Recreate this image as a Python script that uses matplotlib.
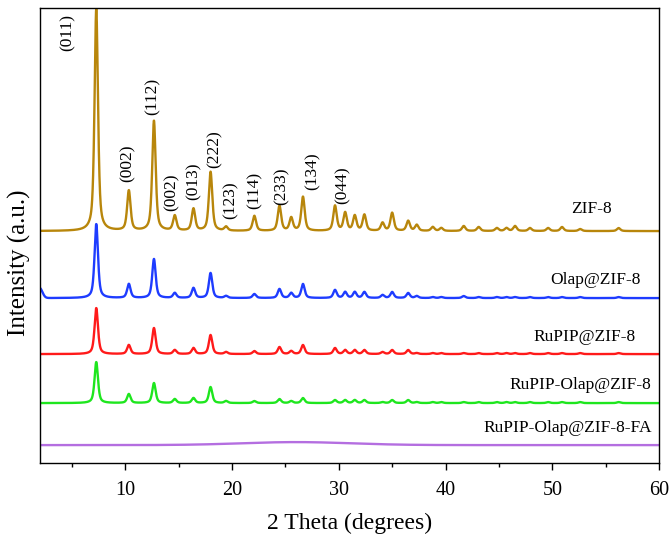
import numpy as np
import matplotlib
matplotlib.use('Agg')
import matplotlib.pyplot as plt
from matplotlib.ticker import MultipleLocator

plt.rcParams['font.family'] = ['Liberation Serif', 'DejaVu Serif']

# peak positions (2 theta, degrees)
peakPos = [7.3, 10.35, 12.7, 14.65, 16.4, 18.0, 19.45, 22.1, 24.45, 25.55, 26.65,
           29.65, 30.6, 31.5, 32.4, 34.1, 35.0, 36.5, 37.3, 38.8, 39.6, 41.7,
           43.1, 44.8, 45.7, 46.5, 47.9, 49.6, 50.9, 52.6, 56.2]

# peak heights (a.u.) for each sample, same order as peakPos
zif8 = [222, 40, 110, 15, 22, 59, 4, 15, 25, 13, 34, 25, 18, 15, 16, 8, 18,
        10, 6, 4, 3, 5, 4, 3, 3, 5, 3, 3, 4, 2, 3]
olapZif8 = [74, 14, 39, 5, 10, 25, 2, 4, 9, 5, 14, 8, 6, 6, 6, 3, 6,
            5, 2, 1, 1, 2, 1, 1, 1, 1, 1, 1, 1, 1, 1]
rupipZif8 = [46, 9, 26, 4, 6, 19, 2, 3, 7, 3, 9, 6, 4, 4, 4, 2, 4,
             4, 1, 1, 1, 1, 1, 1, 1, 1, 1, 1, 1, 1, 1]
rupipOlapZif8 = [41, 9, 20, 4, 5, 16, 2, 2, 4, 2, 5, 3, 3, 3, 3, 1, 3,
                 3, 1, 1, 1, 1, 1, 1, 1, 1, 1, 1, 1, 1, 1]
faZif8 = [0] * len(peakPos)

# vertical offsets of the stacked patterns
offsets = [232, 165, 109, 60, 18]
names = ['ZIF-8', 'Olap@ZIF-8', 'RuPIP@ZIF-8', 'RuPIP-Olap@ZIF-8', 'RuPIP-Olap@ZIF-8-FA']
colors = ['#B8860B', '#1E3CFF', '#FF1A1A', '#1EE61E', '#B46EE0']
heights = [zif8, olapZif8, rupipZif8, rupipOlapZif8, faZif8]

# extra broad features: (position, height, width) per sample
extras = [[], [(2.0, 10, 0.6)], [], [], [(26.0, 3, 12.0)]]

# sample name label positions
nameX = [53.7, 54.0, 53.0, 52.6, 51.4]
nameY = [254, 183, 126, 78, 35]

# Miller index labels
hklTxt = ['(011)', '(002)', '(112)', '(002)', '(013)', '(222)', '(123)',
          '(114)', '(233)', '(134)', '(044)']
hklX = [4.66, 10.2, 12.6, 14.4, 16.4, 18.4, 19.9, 22.1, 24.7, 27.6, 30.4]
hklY = [431, 300, 367, 271, 282, 314, 263, 273, 277, 292, 278]


def profile(x, pos, hts, fwhm=0.38, eta=0.6):
    y = np.zeros_like(x)
    for p, h in zip(pos, hts):
        g = np.exp(-4 * np.log(2) * ((x - p) / fwhm) ** 2)
        l = 1 / (1 + 4 * ((x - p) / fwhm) ** 2)
        y += h * (eta * l + (1 - eta) * g)
    return y


x = np.linspace(2, 60, 4000)

fig = plt.figure(figsize=(6.72, 5.36), dpi=100)
ax = fig.add_axes([0.059, 0.136, 0.922, 0.849])

for i in range(len(names)):
    y = offsets[i] + profile(x, peakPos, heights[i])
    for p, h, w in extras[i]:
        y += h * np.exp(-4 * np.log(2) * ((x - p) / w) ** 2)
    ax.plot(x, y, color=colors[i], lw=1.7)
    ax.text(nameX[i], nameY[i], names[i], fontsize=12.5, ha='center', va='center')

for t, hx, hy in zip(hklTxt, hklX, hklY):
    ax.text(hx, hy, t, rotation=90, fontsize=12.5, ha='center', va='center')

ax.set_xlim(2, 60)
ax.set_ylim(0, 455)
ax.set_yticks([])
ax.xaxis.set_major_locator(MultipleLocator(10))
ax.xaxis.set_minor_locator(MultipleLocator(5))
ax.tick_params(axis='x', which='major', direction='out', length=5, width=1, labelsize=14.5, pad=8)
ax.tick_params(axis='x', which='minor', direction='out', length=3, width=1)
for s in ax.spines.values():
    s.set_linewidth(1.0)

ax.set_xlabel('2 Theta (degrees)', fontsize=17, labelpad=9)
ax.set_ylabel('Intensity (a.u.)', fontsize=18)
ax.yaxis.set_label_coords(-0.014, 0.44)

fig.savefig('out.png', dpi=100)
